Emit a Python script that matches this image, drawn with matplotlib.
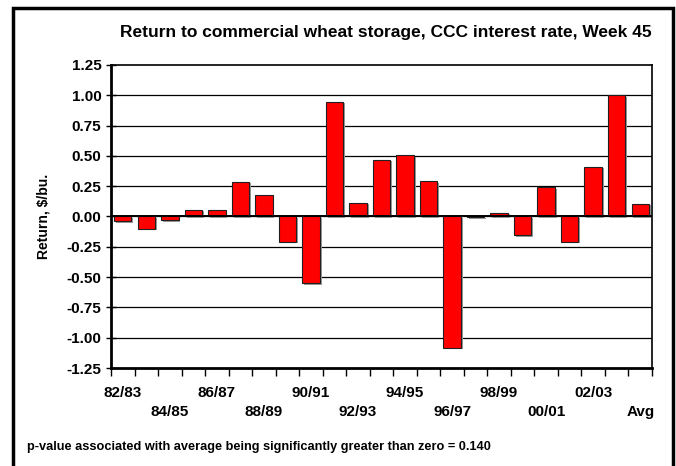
import numpy as np
import matplotlib.pyplot as plt
from matplotlib.patches import Rectangle

plt.rcParams['font.family'] = ['Liberation Sans', 'DejaVu Sans']
plt.rcParams['font.weight'] = 'bold'

# crop years 82/83 .. 03/04 plus the average
years = ['82/83', '83/84', '84/85', '85/86', '86/87', '87/88', '88/89', '89/90',
         '90/91', '91/92', '92/93', '93/94', '94/95', '95/96', '96/97', '97/98',
         '98/99', '99/00', '00/01', '01/02', '02/03', '03/04', 'Avg']
returns = [-0.04, -0.10, -0.03, 0.055, 0.05, 0.285, 0.18, -0.21,
           -0.55, 0.945, 0.115, 0.47, 0.505, 0.29, -1.085, -0.005,
           0.03, -0.155, 0.24, -0.21, 0.41, 1.00, 0.105]
yticks = [1.25, 1.00, 0.75, 0.50, 0.25, 0.00, -0.25, -0.50, -0.75, -1.00, -1.25]

fig = plt.figure(figsize=(6.76, 4.66), dpi=100)
W, H = 676, 466
ax = fig.add_axes([111 / W, 1 - 368 / H, 541 / W, 303 / H])

x = np.arange(len(years))
# drop shadow behind each bar
for xi, v in zip(x, returns):
    ax.add_patch(Rectangle((xi - 0.37 + 0.08, min(0, v) - 0.012), 0.74, abs(v),
                           facecolor='#9a9a9a', edgecolor='none', zorder=2))
ax.bar(x, returns, width=0.74, color='#ff0000', edgecolor='#202020',
       linewidth=0.8, zorder=3)

ax.set_xlim(-0.5, len(years) - 0.5)
ax.set_ylim(-1.25, 1.25)
ax.set_yticks(yticks)
ax.set_yticklabels(['%.2f' % t for t in yticks], fontsize=11, fontweight='bold')
for t in yticks[1:-1]:
    ax.axhline(t, color='#000000', linewidth=0.9, zorder=1)
ax.axhline(0, color='#000000', linewidth=1.4, zorder=4)

# ticks sit between categories, labels alternate on two rows
ax.set_xticks(np.arange(len(years) + 1) - 0.5)
ax.set_xticklabels([])
ax.tick_params(axis='x', direction='out', length=6, width=1)
ax.tick_params(axis='y', direction='inout', length=7, width=1)
for i in range(0, len(years), 2):
    row = (i // 2) % 2
    ax.text(i, -1.456 if row == 0 else -1.613, years[i], ha='center', va='center',
            fontsize=11, fontweight='bold', clip_on=False)

for s in ['left', 'bottom']:
    ax.spines[s].set_linewidth(2)
for s in ['top', 'right']:
    ax.spines[s].set_linewidth(1.2)

ax.set_ylabel('Return, $/bu.', fontsize=10, fontweight='bold')
ax.yaxis.set_label_coords(-0.112, 0.5)

fig.text(386 / W, 1 - 33 / H, 'Return to commercial wheat storage, CCC interest rate, Week 45',
         ha='center', va='center', fontsize=12.5, fontweight='bold')
fig.text(27 / W, 1 - 447 / H,
         'p-value associated with average being significantly greater than zero = 0.140',
         ha='left', va='center', fontsize=9.2, fontweight='bold')

# outer frame
frame = Rectangle((13 / W, -0.05), (673 - 13) / W, 1 - 8 / H + 0.05,
                  transform=fig.transFigure, fill=False, edgecolor='black',
                  linewidth=2.5)
fig.patches.append(frame)

fig.savefig('out.png', dpi=100)
